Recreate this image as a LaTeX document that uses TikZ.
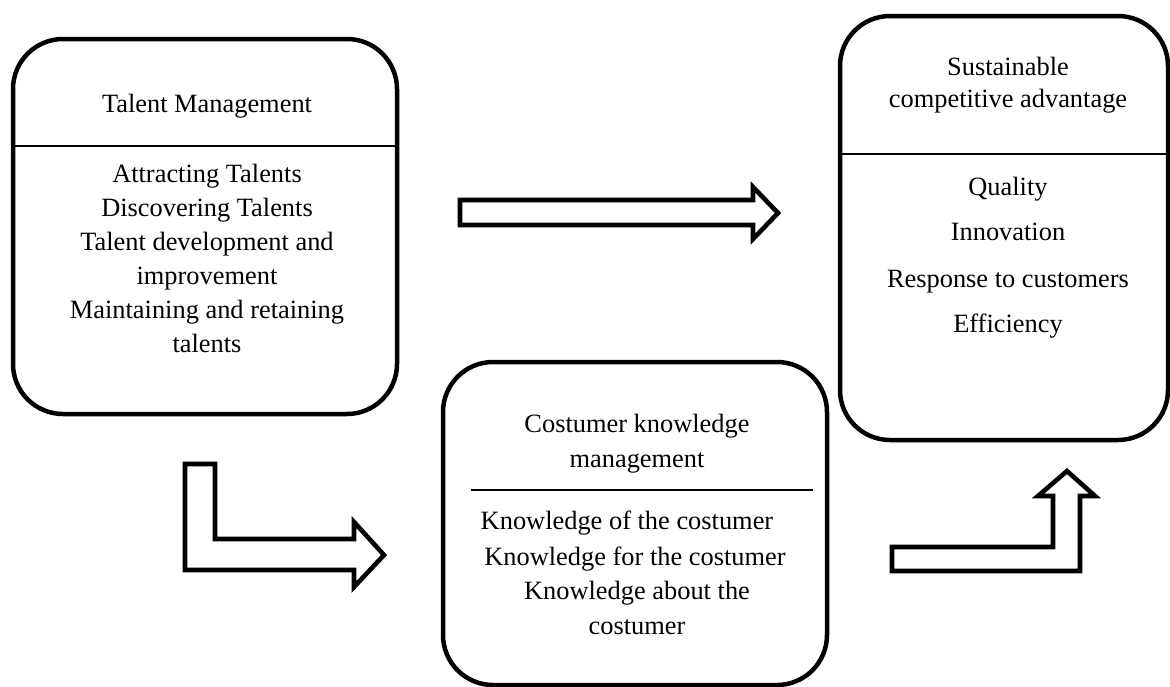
\documentclass[tikz,border=0pt]{standalone}
\usepackage{fontspec}
\setmainfont{Liberation Serif}
\tikzset{
  box/.style={draw, line width=4.5pt, rounded corners=50pt, inner sep=0pt},
  divider/.style={line width=2.5pt},
  blockarrow/.style={draw, line width=4.6pt, miter limit=10},
  txt/.style={anchor=base, inner sep=0pt, font=\fontsize{26.4}{32}\selectfont},
}
\begin{document}
\begin{tikzpicture}[x=1pt, y=-1pt]
\useasboundingbox (0,0) rectangle (1170,686);
% boxes
\node[box, minimum width=384pt, minimum height=375pt] (talent) at (205,226.5) {};
\node[box, minimum width=328pt, minimum height=424pt] (sca) at (1004,228) {};
\node[box, minimum width=384pt, minimum height=323pt] (ckm) at (635,523.5) {};
% dividers
\draw[divider] (talent.west |- 0,146) -- (talent.east |- 0,146);
\draw[divider] (sca.west |- 0,154) -- (sca.east |- 0,154);
\draw[divider] (471,490) -- (813,490);
% talent texts
\node[txt] (t0) at (207,112) {Talent Management};
\node[txt] (t1) at (207,182) {Attracting Talents};
\node[txt] (t2) at (207,216) {Discovering Talents};
\node[txt] (t3) at (207,250) {Talent development and};
\node[txt] (t4) at (207,284) {improvement};
\node[txt] (t5) at (207,318) {Maintaining and retaining};
\node[txt] (t6) at (207,352) {talents};
% sustainable texts
\node[txt] (s0) at (1008,75) {Sustainable};
\node[txt] (s1) at (1008,107) {competitive advantage};
\node[txt] (s2) at (1008,195) {Quality};
\node[txt] (s3) at (1008,240) {Innovation};
\node[txt] (s4) at (1008,287) {Response to customers};
\node[txt] (s5) at (1008,332) {Efficiency};
% costumer texts
\node[txt] (c0) at (637,432) {Costumer knowledge};
\node[txt] (c1) at (637,467) {management};
\node[txt] (c2) at (627,529) {Knowledge of the costumer};
\node[txt] (c3) at (635,565) {Knowledge for the costumer};
\node[txt] (c4) at (637,599) {Knowledge about the};
\node[txt] (c5) at (637,634) {costumer};
% block arrows
\draw[blockarrow] (460,200) -- (753,200) -- (753,187) -- (778,213) -- (753,239) -- (753,225) -- (460,225) -- cycle;
\draw[blockarrow] (185,464) -- (215,464) -- (215,539) -- (354,539) -- (354,522) -- (384,555) -- (354,587) -- (354,570) -- (185,570) -- cycle;
\draw[blockarrow] (892,547) -- (1053,547) -- (1053,496) -- (1038,496) -- (1067,471) -- (1095,496) -- (1080,496) -- (1080,571) -- (892,571) -- cycle;
\end{tikzpicture}
\end{document}
